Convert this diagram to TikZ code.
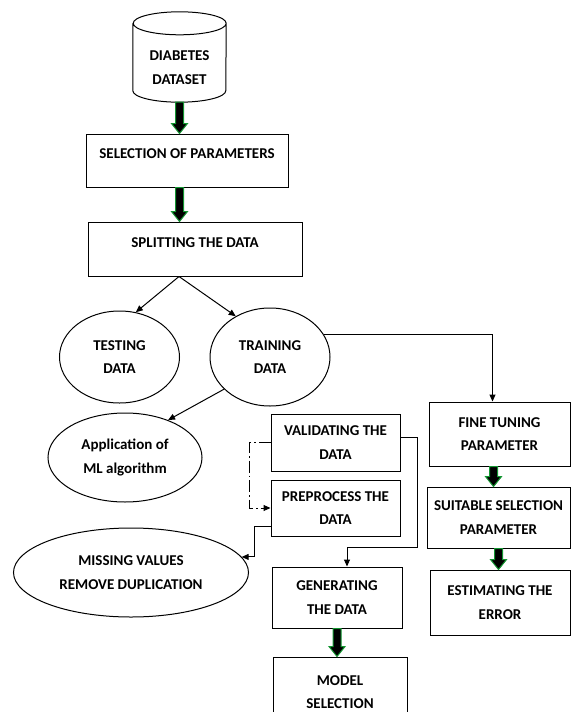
\documentclass[tikz,border=0pt]{standalone}
\usepackage{fontspec}
\setmainfont{Carlito}
\usetikzlibrary{arrows.meta, calc}
\definecolor{arrgreen}{RGB}{20,150,50}
\tikzset{every picture/.style={font issue=\fontsize{15}{23.5}\bfseries},
         font issue/.style={execute at begin picture={#1\selectfont}},
         box/.style={draw, line width=1pt, align=center, inner sep=0pt},
         oval/.style={ellipse, draw, line width=1pt, align=center, inner sep=0pt},
         link/.style={line width=1pt, -{Triangle[width=6pt,length=7pt]}},
         grarrow/.style={draw=arrgreen, fill=black, line width=1pt}
        }
\usetikzlibrary{shapes.geometric}
\newcommand{\greenarrow}[2]{\draw[grarrow] let \p1=#1, \p2=#2 in ({\x1-4pt},\y1) -- ({\x1-4pt},{\y2+10pt}) -- ({\x1-8pt},{\y2+10pt}) -- (\x1,\y2) -- ({\x1+8pt},{\y2+10pt}) -- ({\x1+4pt},{\y2+10pt}) -- ({\x1+4pt},\y1) -- cycle;}

\begin{document}
\begin{tikzpicture}[x=1pt, y=-1pt]
        \clip (0,0) rectangle (571,712);
        \node [minimum width=93pt, minimum height=90pt, inner sep=0pt, label={[align=center, yshift=-10.5pt]center:{DIABETES\\DATASET}}] (ds) at (179.5,57) {};
        \draw [line width=1pt] ([yshift=-11.5pt]ds.north west) -- ([yshift=11.5pt]ds.south west) arc [start angle=180, end angle=360, x radius=46.5pt, y radius=11.5pt] -- ([yshift=-11.5pt]ds.north east) arc [start angle=0, end angle=360, x radius=46.5pt, y radius=11.5pt];
        \node [box, minimum width=202pt, minimum height=53pt, text depth=13pt] (sel) at (187,160.5) {SELECTION OF PARAMETERS};
        \node [box, minimum width=214pt, minimum height=54pt, text depth=13pt] (split) at (195,249) {SPLITTING THE DATA};
        \node [oval, minimum width=120pt, minimum height=92pt] (test) at (119.5,357) {TESTING\\DATA};
        \node [oval, minimum width=120pt, minimum height=98pt] (train) at (270,357) {TRAINING\\DATA};
        \node [oval, minimum width=154pt, minimum height=89pt] (app) at (125,457.5) {Application of\\ML algorithm};
        \node [oval, minimum width=235pt, minimum height=89pt] (miss) at (131,572.5) {MISSING VALUES\\REMOVE DUPLICATION};
        \node [box, minimum width=129pt, minimum height=57pt] (valid) at (335.5,442.5) {VALIDATING THE\\DATA};
        \node [box, minimum width=129pt, minimum height=56pt] (prep) at (335.5,508) {PREPROCESS THE\\DATA};
        \node [box, minimum width=130pt, minimum height=61pt] (gen) at (337,597.5) {GENERATING\\THE DATA};
        \node [box, minimum width=134pt, minimum height=70pt] (model) at (340,692) {MODEL\\SELECTION};
        \node [box, minimum width=141pt, minimum height=64pt] (fine) at (499.5,434) {FINE TUNING\\PARAMETER};
        \node [box, minimum width=143pt, minimum height=61pt] (suit) at (498.5,517.5) {SUITABLE SELECTION\\PARAMETER};
        \node [box, minimum width=140pt, minimum height=65pt] (est) at (500,602.5) {ESTIMATING THE\\ERROR};
        \coordinate (fork) at ([xshift=-16pt]split.south);
        \greenarrow{(ds.south)}{(ds.south |- sel.north)}
        \greenarrow{(sel.south -| ds.south)}{(split.north -| ds.south)}
        \greenarrow{([xshift=-6pt]fine.south)}{([xshift=-6pt]fine.south |- suit.north)}
        \greenarrow{(suit.south)}{(suit.south |- est.north)}
        \greenarrow{(gen.south)}{(gen.south |- model.north)}
        \draw [link] (fork) -- (test.70);
        \draw [link] (fork) -- (train.130);
        \draw [link] (train.215) -- (app.41);
        \draw [link] (train.23) -| ([xshift=-7pt]fine.north);
        \draw [link, dash pattern=on 12pt off 3pt on 1.5pt off 3pt] (valid.west) -- ++(-21,0) |- (prep.west);
        \draw [link] ([yshift=-18pt]prep.west) -- ++(-16,0) |- (miss.8);
        \draw [link] ([yshift=5pt]valid.east) -- ++(17,0) -- ++(0,110) -| ([xshift=10pt]gen.north);
      \end{tikzpicture}
\end{document}
